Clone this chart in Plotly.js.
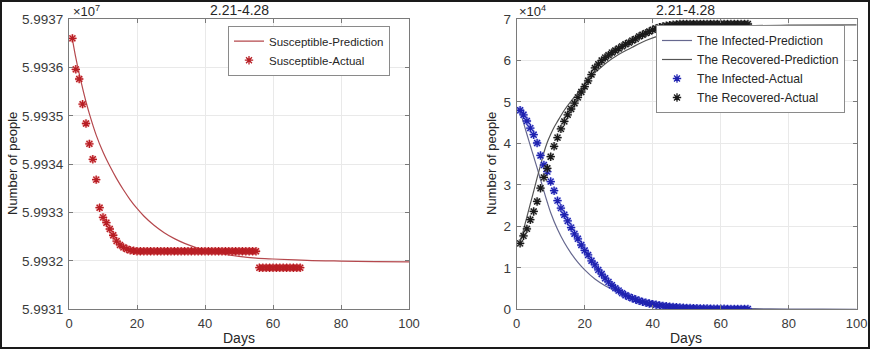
<!DOCTYPE html>
<html>
<head>
<meta charset="utf-8">
<script src="https://cdn.plot.ly/plotly-3.0.1.min.js"></script>
<style>
  html, body { margin: 0; padding: 0; background: #fff; }
  #wrap { position: relative; width: 871px; height: 351px; overflow: hidden; }
  #plot { position: absolute; left: 0; top: 0; width: 871px; height: 351px; }
  #frame { position: absolute; left: 0; top: 0; width: 870px; height: 349px; box-sizing: border-box; border: 2px solid #1a1a1a; pointer-events: none; }
</style>
</head>
<body>
<div id="wrap"><div id="plot"></div><div id="frame"></div></div>
<script>
// ---------- data ----------
const actualDays = [1,2,3,4,5,6,7,8,9,10,11,12,13,14,15,16,17,18,19,20,
  21,22,23,24,25,26,27,28,29,30,31,32,33,34,35,36,37,38,39,40,
  41,42,43,44,45,46,47,48,49,50,51,52,53,54,55,56,57,58,59,60,
  61,62,63,64,65,66,67,68];

const susActual = [59936600,59935960,59935760,59935240,59934840,59934420,59934100,59933680,59933100,59932900,
  59932790,59932660,59932530,59932410,59932330,59932280,59932245,59932220,59932210,59932200,
  59932200,59932200,59932200,59932200,59932200,59932200,59932200,59932200,59932200,59932200,
  59932200,59932200,59932200,59932200,59932200,59932200,59932200,59932200,59932200,59932200,
  59932200,59932200,59932200,59932200,59932200,59932200,59932200,59932200,59932200,59932200,
  59932200,59932200,59932200,59932200,59932200,59931860,59931860,59931860,59931860,59931860,
  59931860,59931860,59931860,59931860,59931860,59931860,59931860,59931860];

const susPredDays = [1,2,3,4,5,6,8,10,12,14,16,18,20,22,25,28,31,34,38,42,46,50,55,60,70,80,90,100];
const susPred = [59936586,59936200,59935870,59935570,59935290,59935040,59934600,59934250,59933960,59933700,
  59933470,59933263,59933084,59932929,59932737,59932584,59932461,59932363,59932262,59932187,
  59932132,59932092,59932058,59932040,59932012,59931997,59931986,59931979];

const infActual = [48000,46900,45400,43700,42100,40100,37100,34800,33200,30800,
  28600,26200,24400,22800,21300,19700,18200,17000,15500,14200,
  13100,11700,10700,9500,8500,7500,6600,5800,5100,4500,
  3900,3400,3000,2650,2350,2050,1800,1600,1400,1250,
  1100,950,830,720,630,550,480,420,370,330,
  300,270,240,220,200,185,170,155,140,130,
  120,110,100,95,90,85,80,75];

const recActual = [15900,17700,19400,21600,23600,26000,29200,31800,34000,36800,
  39300,41400,43500,45300,46900,48300,49700,51100,52400,53700,
  55100,56600,58200,59100,60000,60700,61300,61900,62400,62900,
  63400,63900,64300,64800,65200,65800,66200,66600,67000,67400,
  67700,68000,68200,68400,68500,68600,68700,68800,68800,68800,
  68800,68800,68800,68800,68800,68800,68800,68800,68800,68800,
  68800,68800,68800,68800,68800,68800,68800,68800];

const infPredDays = [1,2,3,4,5,6,7,8,9,10,12,14,16,18,20,23,26,30,35,40,45,50,60,70,80,90,100];
const infPred = [47800,45000,42200,39500,36800,34100,31300,28500,25800,23300,19300,16100,13500,11300,9500,7300,5700,4100,2710,1780,1170,770,330,140,60,25,10];

const recPredDays = [1,2,3,4,5,6,7,8,9,10,11,12,14,16,18,20,22,25,28,31,34,38,42,46,50,55,60,70,80,100];
const recPred = [16000,19100,22300,25400,28500,31700,34700,37800,40300,42200,43900,45300,48000,50200,52200,54500,56300,58500,60400,61900,63200,64800,66000,66800,67300,67800,68100,68400,68500,68600];

const xTicks = [0,20,40,60,80,100];
const susTickVals = [59931000,59932000,59933000,59934000,59935000,59936000,59937000];
const susTickText = ['5.9931','5.9932','5.9933','5.9934','5.9935','5.9936','5.9937'];
const irTickVals = [0,10000,20000,30000,40000,50000,60000,70000];
const irTickText = ['0','1','2','3','4','5','6','7'];

const titleText = '2.21-4.28';

// ---------- helpers ----------
const W = 871, H = 351;
const px = v => v / W;
const py = v => 1 - v / H;
const FONT = 'Liberation Sans, Arial, Helvetica, sans-serif';
const AX = '#7a7a7a';
const GRID = '#e9e9e9';
const TXT = '#3a3a3a';

function axisX(domain, anchor) {
  return {
    domain: domain, anchor: anchor, range: [0, 100],
    tickvals: xTicks, ticks: 'inside', ticklen: 4, tickcolor: AX,
    showline: true, linecolor: AX, linewidth: 1, mirror: 'ticks',
    showgrid: true, gridcolor: GRID, zeroline: false, ticklabelstandoff: 2,
    tickfont: { family: FONT, size: 13, color: TXT }, fixedrange: true
  };
}
function axisY(domain, anchor, range, vals, text) {
  return {
    domain: domain, anchor: anchor, range: range,
    tickvals: vals, ticktext: text, ticks: 'inside', ticklen: 4, tickcolor: AX,
    showline: true, linecolor: AX, linewidth: 1, mirror: 'ticks',
    showgrid: true, gridcolor: GRID, zeroline: false, ticklabelstandoff: 2,
    tickfont: { family: FONT, size: 13.5, color: TXT }, fixedrange: true
  };
}

const traces = [
  { x: susPredDays, y: susPred, mode: 'lines', line: { color: '#b5484d', width: 1.2, shape: 'spline' },
    name: 'Susceptible-Prediction', xaxis: 'x', yaxis: 'y', legend: 'legend' },
  { x: actualDays, y: susActual, mode: 'markers', marker: { symbol: 'circle', size: 8, color: 'rgba(235,120,120,0.5)' },
    showlegend: false, hoverinfo: 'skip', xaxis: 'x', yaxis: 'y' },
  { x: actualDays, y: susActual, mode: 'markers',
    marker: { symbol: 'asterisk-open', size: 7, color: '#b81e24', line: { color: '#b81e24', width: 1.3 } },
    name: 'Susceptible-Actual', xaxis: 'x', yaxis: 'y', legend: 'legend' },

  { x: infPredDays, y: infPred, mode: 'lines', line: { color: '#66688f', width: 1.2, shape: 'spline' },
    name: 'The Infected-Prediction', xaxis: 'x2', yaxis: 'y2', legend: 'legend2' },
  { x: recPredDays, y: recPred, mode: 'lines', line: { color: '#555555', width: 1.2, shape: 'spline' },
    name: 'The Recovered-Prediction', xaxis: 'x2', yaxis: 'y2', legend: 'legend2' },
  { x: actualDays, y: infActual, mode: 'markers', marker: { symbol: 'circle', size: 8, color: 'rgba(130,140,235,0.5)' },
    showlegend: false, hoverinfo: 'skip', xaxis: 'x2', yaxis: 'y2' },
  { x: actualDays, y: infActual, mode: 'markers',
    marker: { symbol: 'asterisk-open', size: 7, color: '#1f22b0', line: { color: '#1f22b0', width: 1.3 } },
    name: 'The Infected-Actual', xaxis: 'x2', yaxis: 'y2', legend: 'legend2' },
  { x: actualDays, y: recActual, mode: 'markers', marker: { symbol: 'circle', size: 8, color: 'rgba(150,150,150,0.5)' },
    showlegend: false, hoverinfo: 'skip', xaxis: 'x2', yaxis: 'y2' },
  { x: actualDays, y: recActual, mode: 'markers',
    marker: { symbol: 'asterisk-open', size: 7, color: '#1a1a1a', line: { color: '#1a1a1a', width: 1.3 } },
    name: 'The Recovered-Actual', xaxis: 'x2', yaxis: 'y2', legend: 'legend2' }
];

const yDom = [py(309.3), py(19)];
const ann = (x, y, text, size, opts) => Object.assign({
  xref: 'paper', yref: 'paper', x: px(x), y: py(y), text: text, showarrow: false,
  font: { family: FONT, size: size, color: '#262626' }, xanchor: 'center', yanchor: 'middle'
}, opts || {});

const layout = {
  width: W, height: H, margin: { l: 0, r: 0, t: 0, b: 0 },
  paper_bgcolor: '#ffffff', plot_bgcolor: '#ffffff', showlegend: true,
  xaxis: axisX([px(69), px(409)], 'y'),
  yaxis: axisY(yDom, 'x', [59931000, 59937000], susTickVals, susTickText),
  xaxis2: axisX([px(516.7), px(856.7)], 'y2'),
  yaxis2: axisY(yDom, 'x2', [0, 70000], irTickVals, irTickText),
  legend: { x: px(228), y: py(25.7), xanchor: 'left', yanchor: 'top', bgcolor: '#ffffff',
    bordercolor: '#8a8a8a', borderwidth: 1, font: { family: FONT, size: 11.5, color: '#262626' },
    tracegroupgap: 0, itemwidth: 30 },
  legend2: { x: px(656), y: py(25), xanchor: 'left', yanchor: 'top', bgcolor: '#ffffff',
    bordercolor: '#8a8a8a', borderwidth: 1, font: { family: FONT, size: 12.2, color: '#262626' },
    tracegroupgap: 0, itemwidth: 30 },
  annotations: [
    ann(239, 10, titleText, 14),
    ann(685, 10, titleText, 14),
    ann(71, 11, '×10<sup>7</sup>', 13, { xanchor: 'left' }),
    ann(517, 11, '×10<sup>4</sup>', 13, { xanchor: 'left' }),
    ann(239, 338, 'Days', 14),
    ann(686, 338, 'Days', 14),
    ann(12, 164, 'Number of people', 13, { textangle: -90 }),
    ann(491, 164, 'Number of people', 13, { textangle: -90 })
  ]
};

Plotly.newPlot('plot', traces, layout, { displayModeBar: false, staticPlot: true });
</script>
</body>
</html>
